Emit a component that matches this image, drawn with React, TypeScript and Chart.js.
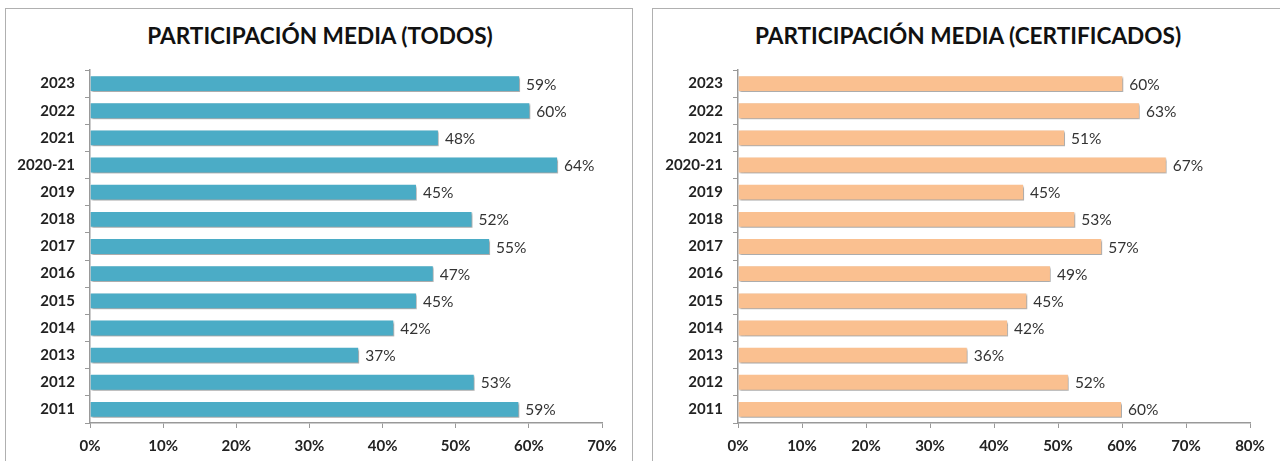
import React, { useEffect, useRef } from "react";
import { Chart, registerables } from "chart.js";

Chart.register(...registerables);

const categories = ["2023", "2022", "2021", "2020-21", "2019", "2018", "2017", "2016", "2015", "2014", "2013", "2012", "2011"];
const todosValues = [58.8, 60.2, 47.7, 64.0, 44.7, 52.3, 54.7, 47.0, 44.7, 41.6, 36.8, 52.6, 58.7];
const certValues = [60.2, 62.8, 51.1, 67.0, 44.7, 52.7, 56.9, 48.9, 45.2, 42.2, 35.9, 51.7, 60.0];
const todosTitle = "PARTICIPACIÓN MEDIA (TODOS)";
const certTitle = "PARTICIPACIÓN MEDIA (CERTIFICADOS)";
const todosMax = 70;
const certMax = 80;

const FONT = "Lato, 'Open Sans', sans-serif";

const labelPlugin = {
  id: "barLabels",
  beforeDatasetsDraw(chart: any) {
    const ctx = chart.ctx;
    ctx.save();
    ctx.shadowColor = "rgba(0,0,0,0.35)";
    ctx.shadowOffsetX = 1.5;
    ctx.shadowOffsetY = 2;
    ctx.shadowBlur = 2;
  },
  afterDatasetsDraw(chart: any) {
    const ctx = chart.ctx;
    ctx.restore();
    ctx.save();
    ctx.font = `15.5px ${FONT}`;
    ctx.fillStyle = "#333";
    ctx.textAlign = "left";
    ctx.textBaseline = "middle";
    const meta = chart.getDatasetMeta(0);
    const data = chart.data.datasets[0].data as number[];
    meta.data.forEach((bar: any, i: number) => {
      ctx.fillText(`${Math.round(data[i])}%`, bar.x + 6, bar.y + 1);
    });
    ctx.restore();
  },
};

function BarPanel(props: { title: string; values: number[]; color: string; max: number; left: number; width: number; plotLeft: number; plotRight: number; titleCenter: number }) {
  const ref = useRef<HTMLCanvasElement | null>(null);
  useEffect(() => {
    if (!ref.current) return;
    const chart = new Chart(ref.current, {
      type: "bar",
      data: {
        labels: categories,
        datasets: [
          {
            data: props.values,
            backgroundColor: props.color,
            borderColor: "#ffffff",
            borderWidth: 1,
            categoryPercentage: 1,
            barPercentage: 0.62,
          },
        ],
      },
      options: {
        indexAxis: "y",
        animation: false,
        responsive: false,
        maintainAspectRatio: false,
        layout: { padding: { left: 0, right: props.width - props.plotRight, top: 62, bottom: 0 } },
        plugins: { legend: { display: false }, tooltip: { enabled: false }, title: { display: false } },
        scales: {
          x: {
            min: 0,
            max: props.max,
            ticks: {
              stepSize: 10,
              callback: (v: any) => `${v}%`,
              font: { family: FONT, size: 15, weight: "bold" },
              color: "#222",
              padding: 9,
            },
            grid: { drawOnChartArea: false, drawTicks: true, tickLength: 5, color: "#999" },
            border: { display: true, color: "#999", width: 1.5 },
            afterFit: (s: any) => {
              s.height = 38;
            },
          },
          y: {
            ticks: {
              font: { family: FONT, size: 15, weight: "bold" },
              color: "#222",
              padding: 10,
            },
            grid: { drawOnChartArea: false, drawTicks: true, tickLength: 5, color: "#999", offset: true },
            border: { display: true, color: "#999", width: 1.5 },
            afterFit: (s: any) => {
              s.width = props.plotLeft;
            },
          },
        },
      },
      plugins: [labelPlugin],
    });
    return () => chart.destroy();
  }, []);
  return (
    <div
      style={{
        position: "absolute",
        left: props.left,
        top: 8,
        width: props.width,
        height: 470,
        border: "1.5px solid #b0b0b0",
        boxSizing: "border-box",
        background: "#fff",
      }}
    >
      <div
        style={{
          position: "absolute",
          left: props.titleCenter - 300,
          width: 600,
          top: 13,
          textAlign: "center",
          fontFamily: FONT,
          fontWeight: "bold",
          fontSize: 22.6,
          color: "#111",
          whiteSpace: "nowrap",
        }}
      >
        {props.title}
      </div>
      <canvas ref={ref} width={props.width} height={453} style={{ position: "absolute", left: -1.5, top: -1.5, display: "block" }} />
    </div>
  );
}

export default function App() {
  return (
    <div style={{ position: "fixed", left: 0, top: 0, width: 1280, height: 461, overflow: "hidden", background: "#fff" }}>
      <BarPanel title={todosTitle} values={todosValues} color="#4BACC6" max={todosMax} left={5} width={628} plotLeft={85} plotRight={597} titleCenter={314} />
      <BarPanel title={certTitle} values={certValues} color="#FAC090" max={certMax} left={652} width={640} plotLeft={86} plotRight={598} titleCenter={315} />
    </div>
  );
}
